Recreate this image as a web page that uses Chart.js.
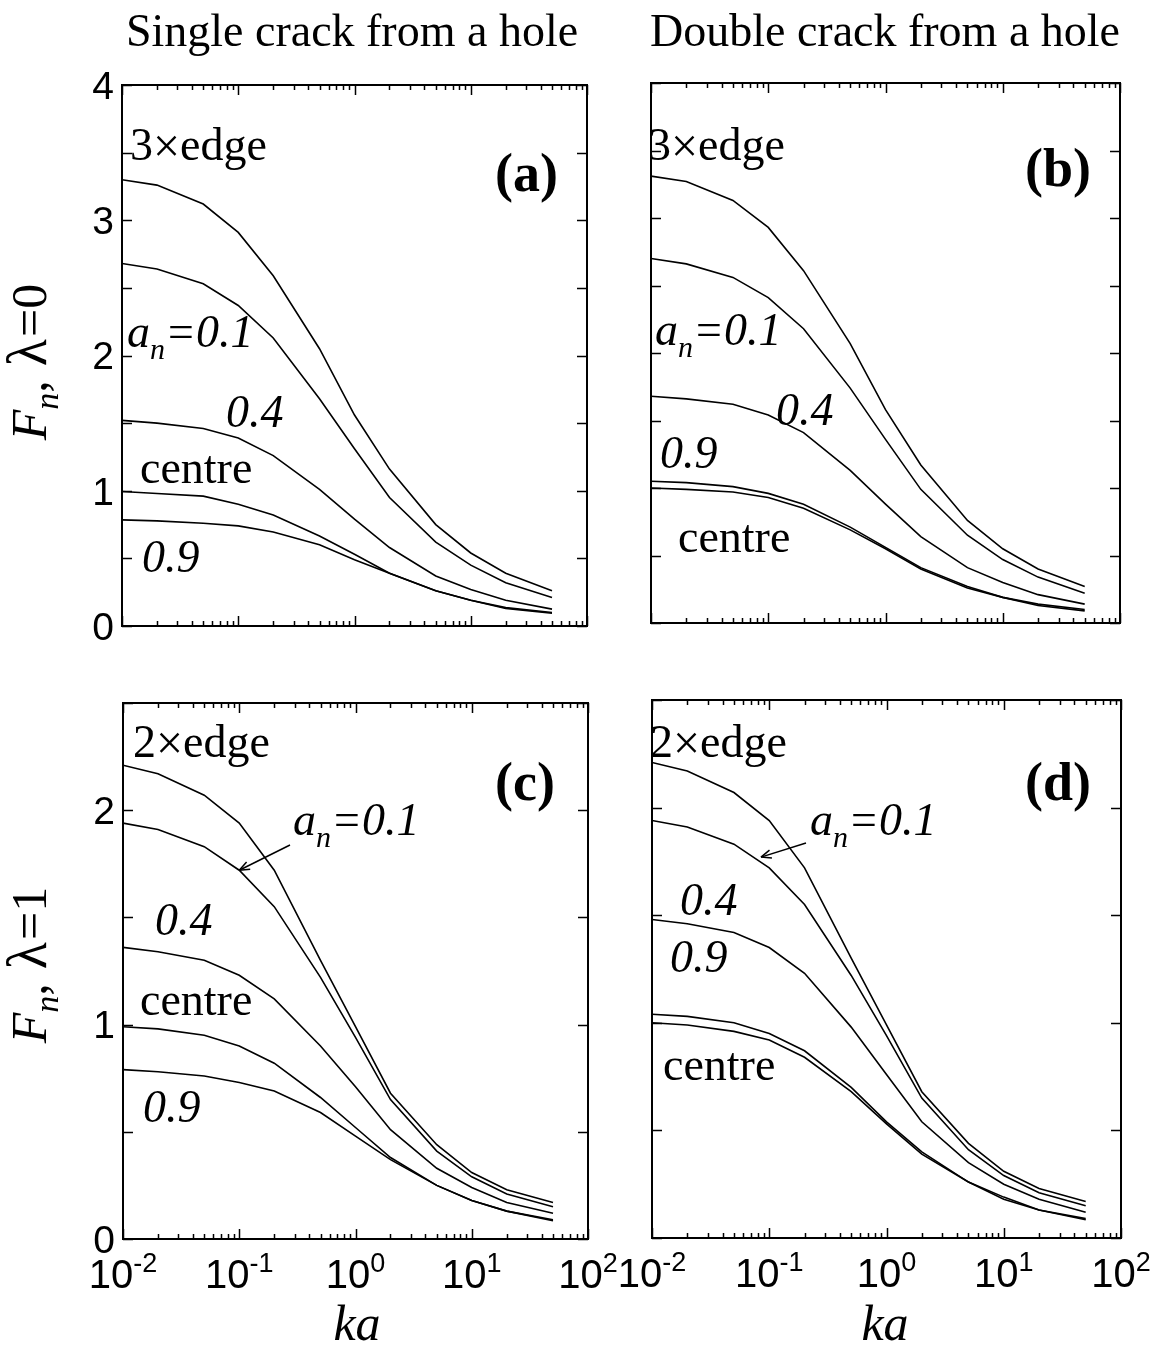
<!DOCTYPE html>
<html>
<head>
<meta charset="utf-8">
<script src="https://cdn.jsdelivr.net/npm/chart.js@4.4.1/dist/chart.umd.min.js"></script>
<style>
  html, body { margin: 0; padding: 0; background: #fff; }
  #wrap { position: relative; width: 1150px; height: 1349px; }
  #wrap canvas { position: absolute; left: 0; top: 0; }
</style>
</head>
<body>
<div id="wrap">
  <canvas id="panelA" width="1150" height="1349"></canvas>
  <canvas id="panelB" width="1150" height="1349"></canvas>
  <canvas id="panelC" width="1150" height="1349"></canvas>
  <canvas id="panelD" width="1150" height="1349"></canvas>
</div>
<script>
// Non-dimensional wavenumber ka at which F_n was computed
const ka = [0.01, 0.02, 0.05, 0.1, 0.2, 0.5, 1, 2, 5, 10, 20, 50];

// Single crack from a hole, lambda = 0
const singleL0Edge3  = [3.30, 3.26, 3.12, 2.91, 2.59, 2.05, 1.56, 1.16, 0.75, 0.54, 0.39, 0.26];
const singleL0A01    = [2.68, 2.64, 2.53, 2.37, 2.13, 1.68, 1.31, 0.95, 0.62, 0.45, 0.32, 0.21];
const singleL0A04    = [1.52, 1.50, 1.46, 1.39, 1.26, 1.01, 0.79, 0.58, 0.37, 0.27, 0.19, 0.125];
const singleL0Centre = [0.995, 0.98, 0.96, 0.90, 0.82, 0.665, 0.53, 0.39, 0.26, 0.19, 0.13, 0.094];
const singleL0A09    = [0.785, 0.777, 0.76, 0.74, 0.695, 0.60, 0.49, 0.39, 0.26, 0.19, 0.136, 0.10];

// Double crack from a hole, lambda = 0
const doubleL0Edge3  = [3.31, 3.27, 3.13, 2.93, 2.61, 2.07, 1.58, 1.17, 0.76, 0.55, 0.40, 0.27];
const doubleL0A01    = [2.70, 2.66, 2.56, 2.41, 2.18, 1.74, 1.36, 0.99, 0.65, 0.47, 0.34, 0.22];
const doubleL0A04    = [1.68, 1.66, 1.62, 1.54, 1.41, 1.13, 0.88, 0.64, 0.41, 0.30, 0.21, 0.14];
const doubleL0A09    = [1.05, 1.04, 1.01, 0.96, 0.88, 0.71, 0.56, 0.41, 0.27, 0.19, 0.14, 0.10];
const doubleL0Centre = [1.00, 0.99, 0.97, 0.93, 0.85, 0.69, 0.55, 0.40, 0.26, 0.19, 0.13, 0.09];

// Single crack from a hole, lambda = 1
const singleL1Edge2  = [2.21, 2.17, 2.07, 1.94, 1.72, 1.30, 0.99, 0.68, 0.44, 0.31, 0.23, 0.17];
const singleL1A01    = [1.94, 1.91, 1.83, 1.72, 1.55, 1.22, 0.94, 0.65, 0.41, 0.29, 0.21, 0.15];
const singleL1A04    = [1.36, 1.34, 1.30, 1.23, 1.12, 0.90, 0.71, 0.51, 0.33, 0.24, 0.17, 0.12];
const singleL1Centre = [0.99, 0.98, 0.95, 0.90, 0.82, 0.66, 0.52, 0.38, 0.25, 0.18, 0.13, 0.09];
const singleL1A09    = [0.79, 0.78, 0.76, 0.73, 0.69, 0.59, 0.48, 0.37, 0.25, 0.18, 0.13, 0.085];

// Double crack from a hole, lambda = 1
const doubleL1Edge2  = [2.21, 2.17, 2.07, 1.94, 1.72, 1.30, 0.99, 0.68, 0.44, 0.31, 0.23, 0.17];
const doubleL1A01    = [1.94, 1.91, 1.83, 1.72, 1.55, 1.22, 0.94, 0.65, 0.41, 0.29, 0.21, 0.15];
const doubleL1A04    = [1.48, 1.46, 1.42, 1.35, 1.23, 0.98, 0.76, 0.54, 0.35, 0.25, 0.18, 0.12];
const doubleL1A09    = [1.04, 1.03, 1.00, 0.95, 0.87, 0.70, 0.54, 0.40, 0.26, 0.19, 0.13, 0.09];
const doubleL1Centre = [1.00, 0.99, 0.96, 0.92, 0.84, 0.68, 0.53, 0.39, 0.26, 0.18, 0.13, 0.085];

// Axis ranges and tick values
const xMin = 0.01, xMax = 100;
const xMajorTicks = [0.01, 0.1, 1, 10, 100];
const xTickExponents = ['-2', '-1', '0', '1', '2'];
const yMaxL0 = 4, yMaxL1 = 2.5;
const yTickStep = 0.5;
const yLabelsL0 = [0, 1, 2, 3, 4];
const yLabelsL1 = [0, 1, 2];

const SERIF = '"Liberation Serif", "Times New Roman", serif';
const SANS = '"Liberation Sans", Arial, Helvetica, sans-serif';
const W = 1150, H = 1349;

// Draws a sequence of text runs (font, text, baseline shift, trailing gap) starting at x
function drawRuns(ctx, runs, x, y) {
  let cx = x;
  for (const r of runs) {
    ctx.font = r.font;
    ctx.fillText(r.text, cx, y + (r.dy || 0));
    cx += ctx.measureText(r.text).width + (r.gap || 0);
  }
  return cx;
}
function runsWidth(ctx, runs) {
  let w = 0;
  for (const r of runs) { ctx.font = r.font; w += ctx.measureText(r.text).width + (r.gap || 0); }
  return w;
}

// Box, inward ticks on all four sides, tick labels and annotations
const framePlugin = {
  id: 'frame',
  afterDatasetsDraw(chart, args, opts) {
    const ctx = chart.ctx;
    const xs = chart.scales.x, ys = chart.scales.y;
    const a = chart.chartArea;
    ctx.save();
    ctx.strokeStyle = '#000';
    ctx.fillStyle = '#000';
    ctx.lineWidth = 2;
    ctx.strokeRect(a.left, a.top, a.right - a.left, a.bottom - a.top);

    ctx.lineWidth = 1.5;
    ctx.beginPath();
    // x ticks: majors at decades, minors at 2..9 x decade
    for (let e = -2; e <= 2; e++) {
      for (let m = 1; m <= 9; m++) {
        const v = m * Math.pow(10, e);
        if (v < xMin - 1e-12 || v > xMax + 1e-9) continue;
        const px = Math.round(xs.getPixelForValue(v)) + 0.5;
        const len = m === 1 ? 10 : 5;
        ctx.moveTo(px, a.bottom); ctx.lineTo(px, a.bottom - len);
        ctx.moveTo(px, a.top); ctx.lineTo(px, a.top + len);
      }
    }
    // y ticks every 0.5
    for (let v = 0; v <= ys.max + 1e-9; v += yTickStep) {
      const py = Math.round(ys.getPixelForValue(v)) + 0.5;
      ctx.moveTo(a.left, py); ctx.lineTo(a.left + 10, py);
      ctx.moveTo(a.right, py); ctx.lineTo(a.right - 10, py);
    }
    ctx.stroke();

    // y tick labels
    if (opts.yLabels) {
      ctx.font = '39px ' + SANS;
      ctx.textAlign = 'right';
      ctx.textBaseline = 'middle';
      for (const v of opts.yLabels) {
        ctx.fillText(String(v), a.left - 8, ys.getPixelForValue(v) + 3);
      }
    }
    // x tick labels as powers of ten
    if (opts.xLabels) {
      ctx.textAlign = 'left';
      ctx.textBaseline = 'alphabetic';
      xMajorTicks.forEach((v, i) => {
        const runs = [
          { text: '10', font: '40px ' + SANS, dy: 0 },
          { text: xTickExponents[i], font: '27px ' + SANS, dy: -16 }
        ];
        const w = runsWidth(ctx, runs);
        drawRuns(ctx, runs, xs.getPixelForValue(v) - w / 2, a.bottom + 49);
      });
    }

    // curve and panel labels
    ctx.textAlign = 'left';
    ctx.textBaseline = 'alphabetic';
    for (const lab of opts.labels || []) {
      drawRuns(ctx, lab.runs, lab.x, lab.y);
    }
    // leader arrow (tip given in data coordinates)
    if (opts.arrow) {
      const ar = opts.arrow;
      const tx = xs.getPixelForValue(ar.tipX), ty = ys.getPixelForValue(ar.tipY);
      const fx = ar.fromX, fy = ar.fromY;
      ctx.lineWidth = 1.5;
      ctx.beginPath(); ctx.moveTo(fx, fy); ctx.lineTo(tx, ty); ctx.stroke();
      const ang = Math.atan2(ty - fy, tx - fx);
      const hl = 11, hw = 0.38;
      ctx.beginPath();
      ctx.moveTo(tx, ty);
      ctx.lineTo(tx - hl * Math.cos(ang - hw), ty - hl * Math.sin(ang - hw));
      ctx.moveTo(tx, ty);
      ctx.lineTo(tx - hl * Math.cos(ang + hw), ty - hl * Math.sin(ang + hw));
      ctx.stroke();
    }
    ctx.restore();
  }
};

// Figure-level texts: column titles, axis titles
const textPlugin = {
  id: 'figureText',
  afterDraw(chart) {
    const ctx = chart.ctx;
    ctx.save();
    ctx.fillStyle = '#000';
    ctx.textBaseline = 'alphabetic';
    ctx.textAlign = 'center';
    ctx.font = '46px ' + SERIF;
    ctx.fillText('Single crack from a hole', 352, 46);
    ctx.fillText('Double crack from a hole', 885, 46);
    ctx.font = 'italic 50px ' + SERIF;
    ctx.fillText('ka', 357, 1340);
    ctx.fillText('ka', 885, 1340);
    ctx.textAlign = 'left';
    const yTitle = (lam, cy) => {
      const runs = [
        { text: 'F', font: 'italic 50px ' + SERIF, dy: 0 },
        { text: 'n', font: 'italic 34px ' + SERIF, dy: 12 },
        { text: ',', font: '50px ' + SERIF, dy: 0, gap: 14 },
        { text: '\u03bb', font: '56px ' + SERIF, dy: 0, gap: 2 },
        { text: '=' + lam, font: '50px ' + SERIF, dy: 0 }
      ];
      const w = runsWidth(ctx, runs);
      ctx.save();
      ctx.translate(46, cy);
      ctx.rotate(-Math.PI / 2);
      drawRuns(ctx, runs, -w / 2, 0);
      ctx.restore();
    };
    yTitle('0', 362);
    yTitle('1', 965);
    ctx.restore();
  }
};

const T = (t) => ({ text: t, font: '46px ' + SERIF });
const TI = (t) => ({ text: t, font: 'italic 46px ' + SERIF });
const TB = (t) => ({ text: t, font: 'bold 54px ' + SERIF });
const edgeRuns = (n) => [T(n), { text: '\u00d7', font: '48px ' + SERIF, dy: 2 }, T('edge')];
const anRuns = (v) => [TI('a'), { text: 'n', font: 'italic 30px ' + SERIF, dy: 12 }, TI('=' + v)];

function makePanel(id, box, yMax, series, opts, extraPlugins) {
  return new Chart(document.getElementById(id), {
    type: 'line',
    data: {
      datasets: series.map(s => ({
        data: ka.map((x, i) => ({ x: x, y: s[i] })),
        borderColor: '#000',
        borderWidth: 1.6,
        pointRadius: 0,
        tension: 0,
        fill: false
      }))
    },
    options: {
      responsive: false,
      animation: false,
      events: [],
      layout: { padding: { left: box.l, top: box.t, right: W - box.r, bottom: H - box.b } },
      scales: {
        x: { type: 'logarithmic', min: xMin, max: xMax, display: false },
        y: { type: 'linear', min: 0, max: yMax, display: false }
      },
      plugins: {
        legend: { display: false },
        tooltip: { enabled: false },
        frame: opts
      }
    },
    plugins: [framePlugin].concat(extraPlugins || [])
  });
}

makePanel('panelA', { l: 122, r: 587, t: 85, b: 626 }, yMaxL0,
  [singleL0Edge3, singleL0A01, singleL0A04, singleL0Centre, singleL0A09],
  {
    yLabels: yLabelsL0,
    labels: [
      { x: 130, y: 160, runs: edgeRuns('3') },
      { x: 495, y: 191, runs: [TB('(a)')] },
      { x: 127, y: 347, runs: anRuns('0.1') },
      { x: 226, y: 427, runs: [TI('0.4')] },
      { x: 140, y: 483, runs: [T('centre')] },
      { x: 142, y: 572, runs: [TI('0.9')] }
    ]
  }, [textPlugin]);

makePanel('panelB', { l: 651, r: 1120, t: 83, b: 623 }, yMaxL0,
  [doubleL0Edge3, doubleL0A01, doubleL0A04, doubleL0A09, doubleL0Centre],
  {
    labels: [
      { x: 648, y: 160, runs: edgeRuns('3') },
      { x: 1025, y: 186, runs: [TB('(b)')] },
      { x: 655, y: 345, runs: anRuns('0.1') },
      { x: 776, y: 425, runs: [TI('0.4')] },
      { x: 660, y: 468, runs: [TI('0.9')] },
      { x: 678, y: 552, runs: [T('centre')] }
    ]
  });

makePanel('panelC', { l: 123, r: 588, t: 703, b: 1239 }, yMaxL1,
  [singleL1Edge2, singleL1A01, singleL1A04, singleL1Centre, singleL1A09],
  {
    yLabels: yLabelsL1,
    xLabels: true,
    labels: [
      { x: 133, y: 757, runs: edgeRuns('2') },
      { x: 495, y: 800, runs: [TB('(c)')] },
      { x: 293, y: 835, runs: anRuns('0.1') },
      { x: 155, y: 935, runs: [TI('0.4')] },
      { x: 140, y: 1015, runs: [T('centre')] },
      { x: 143, y: 1122, runs: [TI('0.9')] }
    ],
    arrow: { fromX: 290, fromY: 845, tipX: 0.1, tipY: 1.72 }
  });

makePanel('panelD', { l: 652, r: 1121, t: 700, b: 1238 }, yMaxL1,
  [doubleL1Edge2, doubleL1A01, doubleL1A04, doubleL1A09, doubleL1Centre],
  {
    xLabels: true,
    labels: [
      { x: 650, y: 757, runs: edgeRuns('2') },
      { x: 1025, y: 800, runs: [TB('(d)')] },
      { x: 810, y: 835, runs: anRuns('0.1') },
      { x: 680, y: 915, runs: [TI('0.4')] },
      { x: 670, y: 972, runs: [TI('0.9')] },
      { x: 663, y: 1080, runs: [T('centre')] }
    ],
    arrow: { fromX: 806, fromY: 843, tipX: 0.085, tipY: 1.77 }
  });
</script>
</body>
</html>
